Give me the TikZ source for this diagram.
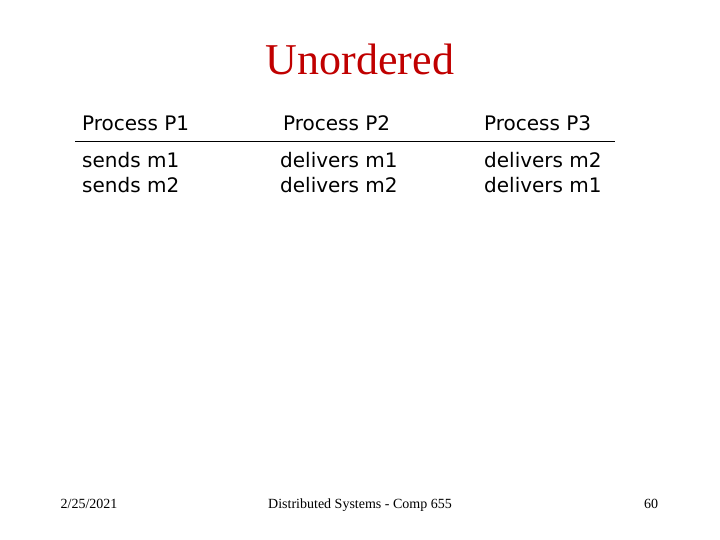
\documentclass[tikz,border=0pt]{standalone}
\usepackage{fontspec}
\setmainfont{Liberation Serif}
\newfontfamily\dv{DejaVu Sans}
\definecolor{titlered}{RGB}{192,0,0}
\begin{document}
\begin{tikzpicture}[x=1pt,y=-1pt,
  cell/.style={anchor=base west,inner sep=0pt,font=\dv\fontsize{20}{24}\selectfont,align=left},
  foot/.style={anchor=base,inner sep=0pt,font=\fontsize{14}{16}\selectfont}]
\useasboundingbox (0,0) rectangle (720,540);
\node[inner sep=0pt,text=titlered,font=\fontsize{44}{48}\selectfont,anchor=base] (title) at (360,75) {Unordered};
\node[cell] (h1) at (82,131) {Process P1};
\node[cell] (h2) at (283,131) {Process P2};
\node[cell] (h3) at (484,131) {Process P3};
\draw[line width=0.8pt] (75,141) coordinate (l1) -- (615,141) coordinate (l2);
\node[cell] (a1) at (82,168) {sends m1};
\node[cell] (b1) at (82,193) {sends m2};
\node[cell] (a2) at (280,168) {delivers m1};
\node[cell] (b2) at (280,193) {delivers m2};
\node[cell] (a3) at (484,168) {delivers m2};
\node[cell] (b3) at (484,193) {delivers m1};
\node[foot] (date) at (89,508) {2/25/2021};
\node[foot] (mid) at (360,508) {Distributed Systems - Comp 655};
\node[foot] (pg) at (651,508) {60};
\end{tikzpicture}
\end{document}
